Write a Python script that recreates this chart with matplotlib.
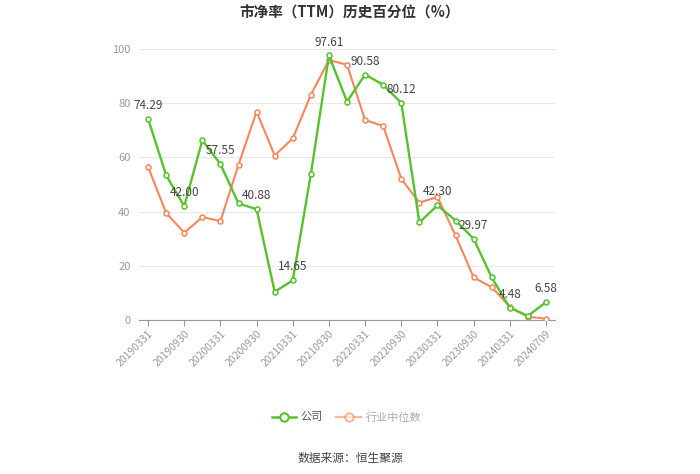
import matplotlib
matplotlib.use("Agg")
import matplotlib.pyplot as plt
from matplotlib.lines import Line2D

plt.rcParams['font.family'] = ['Noto Sans CJK SC', 'DejaVu Sans']

dates = ["20190331", "20190630", "20190930", "20191231",
         "20200331", "20200630", "20200930", "20201231",
         "20210331", "20210630", "20210930", "20211231",
         "20220331", "20220630", "20220930", "20221231",
         "20230331", "20230630", "20230930", "20231231",
         "20240331", "20240630", "20240709"]
company = [74.29, 53.4, 42.00, 66.3, 57.55, 43.0, 40.88, 10.4, 14.65, 53.8,
           97.61, 80.6, 90.58, 86.8, 80.12, 36.0, 42.30, 36.7, 29.97, 15.7,
           4.48, 1.5, 6.58]
industry = [56.5, 39.5, 32.2, 38.0, 36.5, 57.3, 76.9, 60.7, 67.0, 83.1,
            95.9, 94.2, 73.8, 71.6, 52.1, 43.3, 45.4, 31.2, 15.7, 12.1,
            4.9, 1.2, 0.5]
label_idx = [0, 2, 4, 6, 8, 10, 12, 14, 16, 18, 20, 22]
tick_idx = [0, 2, 4, 6, 8, 10, 12, 14, 16, 18, 20, 22]

green = '#56c22c'
orange = '#f5875c'

fig = plt.figure(figsize=(7.0, 4.74), dpi=100)
ax = fig.add_axes([0.1986, 0.3249, 0.5943, 0.5717])

x = list(range(len(dates)))
ax.plot(x, industry, color=orange, lw=1.5, marker='o', ms=3.6,
        markerfacecolor='white', markeredgecolor=orange, markeredgewidth=1.1, zorder=3)
ax.plot(x, company, color=green, lw=1.7, marker='o', ms=3.6,
        markerfacecolor='white', markeredgecolor=green, markeredgewidth=1.1, zorder=4)

for i in label_idx:
    ax.annotate(f"{company[i]:.2f}", (x[i], company[i]), xytext=(0, 5),
                textcoords='offset points', ha='center', va='bottom',
                fontsize=8.5, color='#444444', zorder=5)

ax.set_xlim(-0.5, len(dates) - 0.5)
ax.set_ylim(0, 100)
ax.set_yticks([0, 20, 40, 60, 80, 100])
ax.grid(axis='y', color='#e8e8e8', lw=0.8)
ax.set_axisbelow(True)
for s in ['left', 'right', 'top']:
    ax.spines[s].set_visible(False)
ax.spines['bottom'].set_color('#999999')
ax.tick_params(axis='y', length=0, labelsize=8, labelcolor='#999999', pad=6)
ax.set_xticks(tick_idx)
ax.set_xticklabels([dates[i] for i in tick_idx], rotation=45, ha='right',
                   rotation_mode='anchor', fontsize=7.5, color='#999999')
ax.tick_params(axis='x', length=4, color='#999999', pad=2)

fig.text(0.5, 0.99, "市净率（TTM）历史百分位（%）", ha='center', va='top',
         fontsize=10.5, fontweight='bold', color='#333333')

handles = [Line2D([0], [0], color=green, lw=1.8, marker='o', ms=6,
                  markerfacecolor='white', markeredgecolor=green, markeredgewidth=1.5),
           Line2D([0], [0], color=orange, lw=1.6, marker='o', ms=6, alpha=0.6,
                  markerfacecolor='white', markeredgecolor=orange, markeredgewidth=1.5)]
leg = fig.legend(handles, ["公司", "行业中位数"], loc='center', bbox_to_anchor=(0.495, 0.12),
                 ncol=2, frameon=False, fontsize=8, handlelength=2.2, columnspacing=1.2,
                 handletextpad=0.4)
for t in leg.get_texts():
    t.set_color('#555555')
leg.get_texts()[1].set_color('#aaaaaa')

fig.text(0.5, 0.033, "数据来源：恒生聚源", ha='center', va='center',
         fontsize=8.5, color='#444444')

fig.savefig("out.png", dpi=100)
